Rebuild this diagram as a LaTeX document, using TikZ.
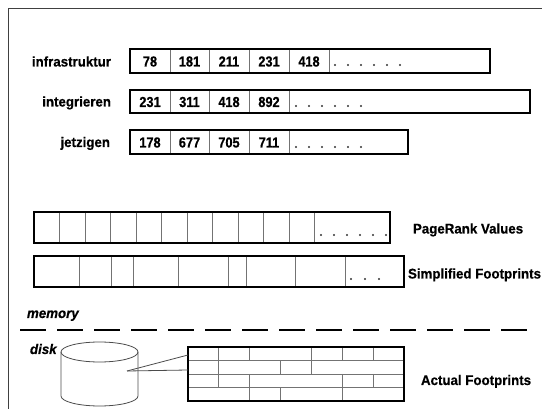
\documentclass[tikz,border=0pt]{standalone}
\usepackage{fontspec}
\setmainfont{Liberation Sans}
\newfontfamily\lblfont[FakeStretch=0.95,FakeBold=0.5]{Liberation Sans}
\newfontfamily\numfont[FakeStretch=0.88,FakeBold=0.5]{Liberation Sans}
\begin{document}
\begin{tikzpicture}[x=1pt,y=-1pt,
  lbl/.style={font=\lblfont\bfseries\fontsize{14}{16}\selectfont, inner sep=0pt, outer sep=0pt, text=black},
  ilbl/.style={font=\lblfont\bfseries\itshape\fontsize{14}{16}\selectfont, inner sep=0pt, outer sep=0pt, text=black},
  num/.style={font=\numfont\bfseries\fontsize{14.5}{16}\selectfont, inner sep=0pt, outer sep=0pt, anchor=base, text=black},
  bar/.style={draw=black, line width=1.4pt, inner sep=0pt, outer sep=0pt, anchor=north west},
  cell/.style={draw=black!55, line width=0.9pt},
  gline/.style={draw=black!55, line width=0.9pt},
  dotm/.style={fill=black!80, draw=none},
  cyl/.style={draw=black!70, line width=0.8pt},
  conn/.style={draw=black!70, line width=0.8pt},
  frame/.style={draw=black!75, line width=1pt}]
\useasboundingbox (0,0) rectangle (542,409);
\draw[frame] (542,9) -- (8,9) -- (8,409);

% ---- inverted lists
\node[bar, minimum width=360pt, minimum height=24pt] (r1) at (130,49) {};
\foreach \x in {170,209,249,289,329} \draw[cell] (\x,49.7) -- (\x,72.3);
\foreach \x/\t [count=\i] in {150/78,189.5/181,229/211,269/231,309/418}
  \node[num] (a\i) at (\x,66.5) {\t};
\foreach \x in {335,348,...,400} \fill[dotm] (\x,65) circle (1.2pt);
\node[lbl, anchor=base east] (l1) at (111,66.5) {infrastruktur};

\node[bar, minimum width=400pt, minimum height=23pt] (r2) at (130,90) {};
\foreach \x in {170,209,249,289} \draw[cell] (\x,90.7) -- (\x,112.3);
\foreach \x/\t [count=\i] in {150/231,189.5/311,229/418,269/892}
  \node[num] (b\i) at (\x,107) {\t};
\foreach \x in {296,309,...,361} \fill[dotm] (\x,106) circle (1.2pt);
\node[lbl, anchor=base east] (l2) at (111,106.5) {integrieren};

\node[bar, minimum width=278pt, minimum height=24pt] (r3) at (130,130) {};
\foreach \x in {170,209,249,289} \draw[cell] (\x,130.7) -- (\x,153.3);
\foreach \x/\t [count=\i] in {150/178,189.5/677,229/705,269/711}
  \node[num] (c\i) at (\x,147.5) {\t};
\foreach \x in {296,309,...,361} \fill[dotm] (\x,147) circle (1.2pt);
\node[lbl, anchor=base east] (l3) at (110,147) {jetzigen};

% ---- PageRank values
\node[bar, minimum width=356pt, minimum height=31pt] (pr) at (34,212) {};
\foreach \k in {1,...,11} \draw[cell] ({34+25.5*\k},212.7) -- ({34+25.5*\k},242.3);
\foreach \x in {321,334,...,386} \fill[dotm] (\x,235) circle (1.2pt);
\node[lbl, anchor=base west] (lpr) at (413,233.5) {PageRank Values};

% ---- Simplified footprints
\node[bar, minimum width=370pt, minimum height=31pt] (sf) at (34,256) {};
\foreach \x in {79.3,111,133.3,178.3,228.3,246,295,345} \draw[cell] (\x,256.7) -- (\x,286.3);
\foreach \x in {351,365,379} \fill[dotm] (\x,279) circle (1.2pt);
\node[lbl, anchor=base west] (lsf) at (408,278.5) {Simplified Footprints};

% ---- memory / disk
\node[ilbl, anchor=base west] (lm) at (27,318) {memory};
\coordinate (d1) at (20,330);
\coordinate (d2) at (529,330);
\draw[line width=2.8pt, dash pattern=on 26pt off 11pt] (d1) -- (d2);
\node[ilbl, anchor=base west] (ld) at (30,354) {disk};

% cylinder
\draw[cyl] (99.5,352) ellipse [x radius=38.5, y radius=10];
\draw[cyl] (61,352) -- (61,396) arc[start angle=180, end angle=0, x radius=38.5, y radius=10] -- (138,352);
\coordinate (dk) at (127,371);

% actual footprints grid
\foreach \y in {360.5,374,387.5} \draw[gline] (188,\y) -- (404,\y);
\foreach \x in {218.9,249.7,311.4,342.3,373.1} \draw[gline] (\x,347) -- (\x,360.5);
\foreach \x in {218.9,280.6,311.4} \draw[gline] (\x,360.5) -- (\x,374);
\foreach \x in {218.9,249.7,342.3,373.1} \draw[gline] (\x,374) -- (\x,387.5);
\foreach \x in {249.7,280.6,342.3} \draw[gline] (\x,387.5) -- (\x,401);
\node[bar, minimum width=216pt, minimum height=54pt] (af) at (188,347) {};
\draw[line width=2pt] (af.south west) -- (af.south east);
\coordinate (g1) at (188,355);
\coordinate (g2) at (188,370);
\draw[conn] (dk) -- (g1);
\draw[conn] (dk) -- (g2);
\node[lbl, anchor=base west] (laf) at (421,385) {Actual Footprints};
\end{tikzpicture}
\end{document}
